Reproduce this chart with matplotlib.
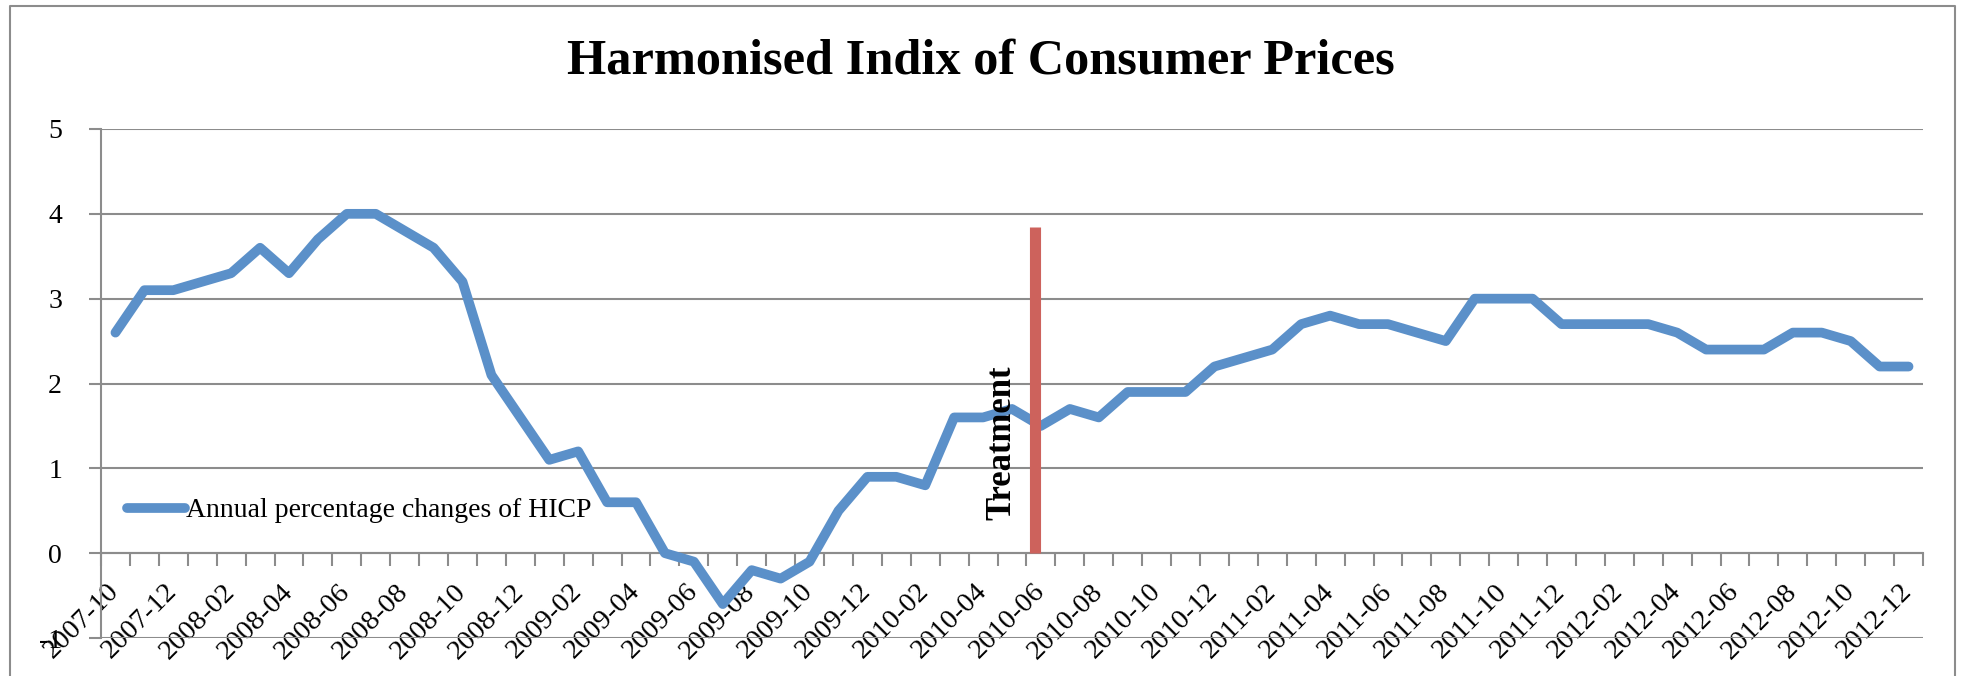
import matplotlib as mp
mp.use('Agg')
import matplotlib.pyplot as plt
from matplotlib.lines import Line2D

# monthly HICP, 2007-10 .. 2012-12
months = ['2007-10', '2007-11', '2007-12',
          '2008-01', '2008-02', '2008-03', '2008-04', '2008-05', '2008-06',
          '2008-07', '2008-08', '2008-09', '2008-10', '2008-11', '2008-12',
          '2009-01', '2009-02', '2009-03', '2009-04', '2009-05', '2009-06',
          '2009-07', '2009-08', '2009-09', '2009-10', '2009-11', '2009-12',
          '2010-01', '2010-02', '2010-03', '2010-04', '2010-05', '2010-06',
          '2010-07', '2010-08', '2010-09', '2010-10', '2010-11', '2010-12',
          '2011-01', '2011-02', '2011-03', '2011-04', '2011-05', '2011-06',
          '2011-07', '2011-08', '2011-09', '2011-10', '2011-11', '2011-12',
          '2012-01', '2012-02', '2012-03', '2012-04', '2012-05', '2012-06',
          '2012-07', '2012-08', '2012-09', '2012-10', '2012-11', '2012-12']
hicp = [2.6, 3.1, 3.1,
        3.2, 3.3, 3.6, 3.3, 3.7, 4.0, 4.0, 3.8, 3.6, 3.2, 2.1, 1.6,
        1.1, 1.2, 0.6, 0.6, 0.0, -0.1, -0.6, -0.2, -0.3, -0.1, 0.5, 0.9,
        0.9, 0.8, 1.6, 1.6, 1.7, 1.5, 1.7, 1.6, 1.9, 1.9, 1.9, 2.2,
        2.3, 2.4, 2.7, 2.8, 2.7, 2.7, 2.6, 2.5, 3.0, 3.0, 3.0, 2.7,
        2.7, 2.7, 2.7, 2.6, 2.4, 2.4, 2.4, 2.6, 2.6, 2.5, 2.2, 2.2]
yticks = [-1, 0, 1, 2, 3, 4, 5]
treatment_month = '2010-06'
treatment_top = 3.85

plt.rcParams['font.family'] = ['Liberation Serif', 'DejaVu Serif']
plt.rcParams['axes.unicode_minus'] = False
grey = '#8c8c8c'
blue = '#5b90c9'
red = '#cd625c'

fig = plt.figure(figsize=(19.61, 6.76), dpi=100)
ax = fig.add_axes([101/1961, 38/676, 1822/1961, 509/676])

# spine position first, it resets the ticks
for s in ['top', 'right']:
    ax.spines[s].set_visible(False)
ax.spines['bottom'].set_position(('data', 0))
ax.spines['bottom'].set_color(grey)
ax.spines['bottom'].set_linewidth(1.5)
ax.spines['left'].set_color(grey)
ax.spines['left'].set_linewidth(1.5)

x = list(range(len(months)))
ax.plot(x, hicp, color=blue, lw=7, solid_capstyle='round', solid_joinstyle='round',
        label='Annual percentage changes of HICP', zorder=3)

tx = months.index(treatment_month) - 0.2
ax.plot([tx, tx], [0, treatment_top], color=red, lw=8, solid_capstyle='butt', zorder=4)
ax.text(tx - 1.15, 1.3, 'Treatment', rotation=90, ha='center', va='center',
        fontsize=25, fontweight='bold')

ax.set_xlim(-0.5, len(months) - 0.5)
ax.set_ylim(-1, 5)
ax.set_yticks(yticks)
ax.yaxis.grid(True, color=grey, lw=1.5)
ax.set_axisbelow(True)
ax.tick_params(axis='y', length=9, width=1.5, color=grey, labelsize=20, pad=19)

ax.set_xticks([i - 0.5 for i in range(len(months) + 1)], minor=True)
ax.set_xticks(x[::2])
ax.set_xticklabels(months[::2], rotation=45, ha='right', va='center',
                   rotation_mode='anchor', fontsize=20.5)
ax.tick_params(axis='x', which='major', length=0, pad=25)
ax.tick_params(axis='x', which='minor', length=9, width=1.5, color=grey, direction='out')

ax.legend(loc='center left', bbox_to_anchor=(0.014, 0.25), frameon=False,
          fontsize=20, handlelength=2.1, handletextpad=0.05, borderpad=0,
          borderaxespad=0)

fig.text(0.5, 1 - 62/676, 'Harmonised Indix of Consumer Prices', ha='center',
         va='center', fontsize=36.3, fontweight='bold')

# chart border
fig.add_artist(Line2D([10/1961, 10/1961, 1955/1961, 1955/1961],
                      [-0.1, 1 - 6/676, 1 - 6/676, -0.1],
                      transform=fig.transFigure, color=grey, lw=1.5))

plt.savefig('out.png')
